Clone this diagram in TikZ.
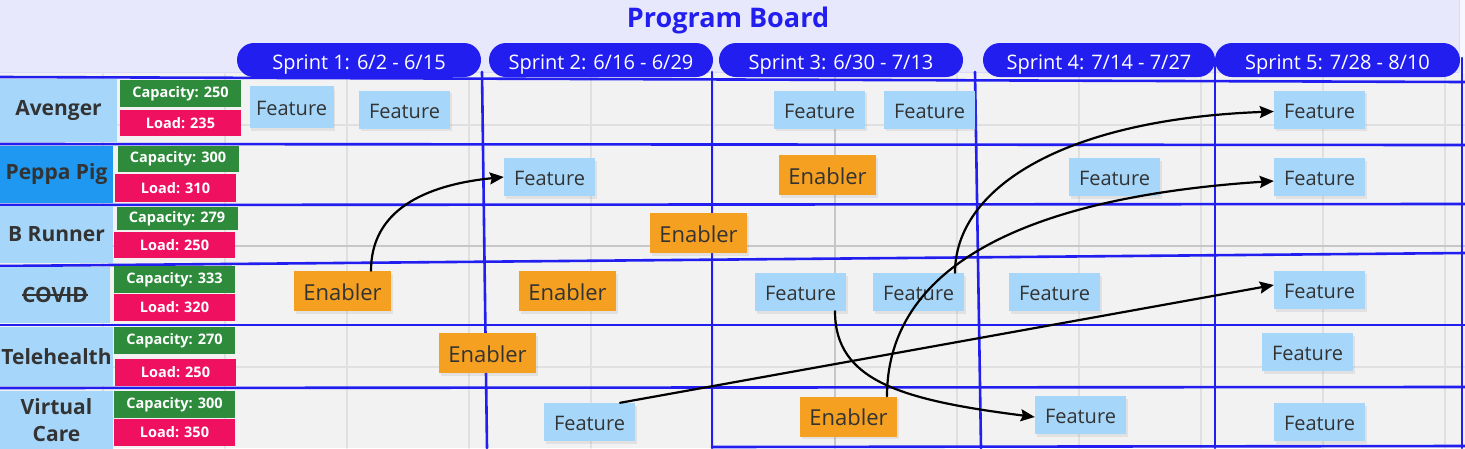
\documentclass[tikz,border=0pt]{standalone}
\usepackage{fontspec}
\setmainfont{Open Sans}
\usetikzlibrary{arrows.meta,shadows}
\definecolor{boardblue}{RGB}{34,30,240}
\definecolor{lavender}{RGB}{232,232,252}
\definecolor{canvasgrey}{RGB}{242,242,242}
\definecolor{gridgrey}{RGB}{224,224,224}
\definecolor{stickyblue}{RGB}{166,215,250}
\definecolor{teamblue}{RGB}{30,152,240}
\definecolor{stickyorange}{RGB}{245,160,32}
\definecolor{capgreen}{RGB}{46,139,59}
\definecolor{loadpink}{RGB}{240,16,96}
\definecolor{ink}{RGB}{51,51,51}
\newcommand\strikeword[1]{\leavevmode\setbox0\hbox{#1}\rlap{\rule[0.33em]{\wd0}{1.6pt}}\box0}
\begin{document}
\begin{tikzpicture}[x=1pt,y=-1pt,line cap=round,line join=round,
  feat/.style={fill=stickyblue,text=ink,font=\fontsize{20}{22}\selectfont,
    minimum width=91pt,minimum height=38pt,inner sep=0pt,text height=17pt,text depth=0pt,
    drop shadow={shadow xshift=1.5pt,shadow yshift=-2.5pt,opacity=0.15}},
  enab/.style={feat,fill=stickyorange,font=\fontsize{22}{24}\selectfont,
    minimum width=97pt,minimum height=40pt,text height=18pt},
  team/.style={fill=stickyblue,text=ink,font=\bfseries\fontsize{21}{23}\selectfont,
    minimum width=113pt,inner sep=0pt,align=center},
  capbox/.style={fill=capgreen,text=white,font=\bfseries\fontsize{14.5}{16}\selectfont,
    minimum width=121pt,minimum height=27pt,inner sep=0pt},
  loadbox/.style={capbox,fill=loadpink},
  pill/.style={fill=boardblue,text=white,font=\fontsize{20}{22}\selectfont,
    rounded corners=17pt,minimum height=34pt,inner sep=0pt,text height=18pt,text depth=0pt},
  lane/.style={draw=boardblue,line width=2.6pt},
  link/.style={line width=2.2pt,-{Stealth[length=14pt,width=12pt,inset=2pt]}}]
  \useasboundingbox (0,0) rectangle (1465,448);

  % Board frame and canvas.
  \fill[white!60!lavender] (0,0) rectangle (1465,72);
  \fill[lavender] (0,0) rectangle (1459,72);
  \draw[lavender!80!boardblue!60,line width=1pt] (1459,0) -- (1459,72) -- (0,72);
  \fill[canvasgrey] (0,73) rectangle (1465,448);
  \foreach \gx in {103,225,...,1445}
    \draw[gridgrey,line width=1.4pt] (\gx,74) -- (\gx,448);
  \foreach \gy in {125,246,367}
    \draw[gridgrey,line width=1.4pt] (0,\gy) -- (1465,\gy);
  \draw[black!22,line width=1.4pt] (835,74) -- (835,448);
  \draw[black!22,line width=1.4pt] (0,246) -- (1465,246);

  \node[font=\bfseries\fontsize{27}{30}\selectfont,text=boardblue] (title) at (728,20) {Program Board};

  % Swim lanes.
  \draw[lane] (0,77) -- (1465,82);
  \draw[lane] (0,144) -- (1465,145);
  \draw[lane] (0,205) -- (1465,204);
  \draw[lane] (0,266) -- (1465,253);
  \draw[lane] (0,325) -- (1465,325);
  \draw[lane] (0,388) -- (1465,387);
  \draw[lane] (712,447) -- (1465,446);
  \draw[lane] (482,72) -- (487,448);
  \draw[lane] (712,72) -- (712,448);
  \draw[lane] (975,72) -- (981,448);
  \draw[lane] (1215,60) -- (1215,448);
  \draw[lane] (1462,58) -- (1462,448);

  % Sprint headers.
  \node[pill,minimum width=244pt] (s1) at (359,60) {Sprint 1: 6/2 - 6/15};
  \node[pill,minimum width=224pt] (s2) at (601,60) {Sprint 2: 6/16 - 6/29};
  \node[pill,minimum width=244pt] (s3) at (841,60) {Sprint 3: 6/30 - 7/13};
  \node[pill,minimum width=232pt] (s4) at (1099,60) {Sprint 4: 7/14 - 7/27};
  \node[pill,minimum width=245pt] (s5) at (1337.5,60) {Sprint 5: 7/28 - 8/10};

  % Teams with capacity and load.
  \node[team,minimum width=117pt,minimum height=63pt] (avenger) at (58.5,110.5) {Avenger};
  \node[capbox] (avcap) at (180.5,93.5) {Capacity: 250};
  \node[loadbox,minimum height=26pt] (avload) at (180.5,123) {Load: 235};

  \node[team,fill=teamblue,minimum height=57pt] (peppa) at (56.5,174.5) {Peppa Pig};
  \node[capbox,minimum height=26pt] (ppcap) at (178,159) {Capacity: 300};
  \node[loadbox,minimum height=28pt] (ppload) at (175.5,188) {Load: 310};

  \node[team,minimum height=57pt] (brunner) at (56.5,234.5) {B Runner};
  \node[capbox,minimum height=23pt] (brcap) at (177,218.5) {Capacity: 279};
  \node[loadbox,minimum height=26pt] (brload) at (174.5,245) {Load: 250};

  \node[team,minimum width=110pt,minimum height=56pt] (covid) at (55,295) {\strikeword{COVID}};
  \node[capbox] (cvcap) at (174.5,279.5) {Capacity: 333};
  \node[loadbox] (cvload) at (174.5,307.5) {Load: 320};

  \node[team,minimum height=59pt] (telehealth) at (56.5,356.5) {Telehealth};
  \node[capbox] (thcap) at (174.5,340.5) {Capacity: 270};
  \node[loadbox] (thload) at (175.5,372.5) {Load: 250};

  \node[team,minimum height=59pt] (virtual) at (56.5,420) {Virtual\\[4pt]Care};
  \node[capbox] (vccap) at (174.5,404.5) {Capacity: 300};
  \node[loadbox] (vcload) at (174.5,432.5) {Load: 350};

  % Stickies per lane.
  \node[feat,minimum width=84pt,minimum height=42pt] (ave1) at (291.5,107) {Feature};
  \node[feat] (ave2) at (404.5,109.5) {Feature};
  \node[feat] (ave3) at (819.5,109.5) {Feature};
  \node[feat] (ave4) at (929.5,109.5) {Feature};
  \node[feat] (ave5) at (1319.5,109.5) {Feature};

  \node[feat] (pep1) at (549.5,177) {Feature};
  \node[enab] (pep2) at (827.5,175) {Enabler};
  \node[feat] (pep3) at (1114.5,177) {Feature};
  \node[feat] (pep4) at (1319.5,177) {Feature};

  \node[enab] (brun1) at (698.5,233) {Enabler};

  \node[enab] (cov1) at (342.5,291) {Enabler};
  \node[enab] (cov2) at (567.5,291) {Enabler};
  \node[feat] (cov3) at (800.5,292) {Feature};
  \node[feat] (cov4) at (918.5,292) {Feature};
  \node[feat] (cov5) at (1054.5,292) {Feature};
  \node[feat] (cov6) at (1319.5,290) {Feature};

  \node[enab] (tele1) at (487.5,353) {Enabler};
  \node[feat] (tele2) at (1307.5,352) {Feature};

  \node[feat] (vc1) at (589.5,422) {Feature};
  \node[enab] (vc2) at (848.5,416.5) {Enabler};
  \node[feat] (vc3) at (1080.5,415) {Feature};
  \node[feat] (vc4) at (1319.5,422) {Feature};

  % Dependencies.
  \draw[link] ([xshift=28.5pt]cov1.north) .. controls +(0,-60) and +(-80,8) .. (pep1.west);
  \draw[link] ([xshift=36.5pt]cov4.north) .. controls +(0,-83) and +(-214,8) .. ([yshift=-2pt]ave5.west);
  \draw[link] ([xshift=38.5pt]vc2.north) .. controls +(0,-117) and +(-274,18) .. ([yshift=-4pt]pep4.west);
  \draw[link] ([xshift=30.5pt]vc1.north) -- ([yshift=5pt]cov6.west);
  \draw[link] ([xshift=34.5pt]cov3.south) .. controls +(0,69) and +(-135,-17) .. ([yshift=-2pt]vc3.west);
\end{tikzpicture}
\end{document}
